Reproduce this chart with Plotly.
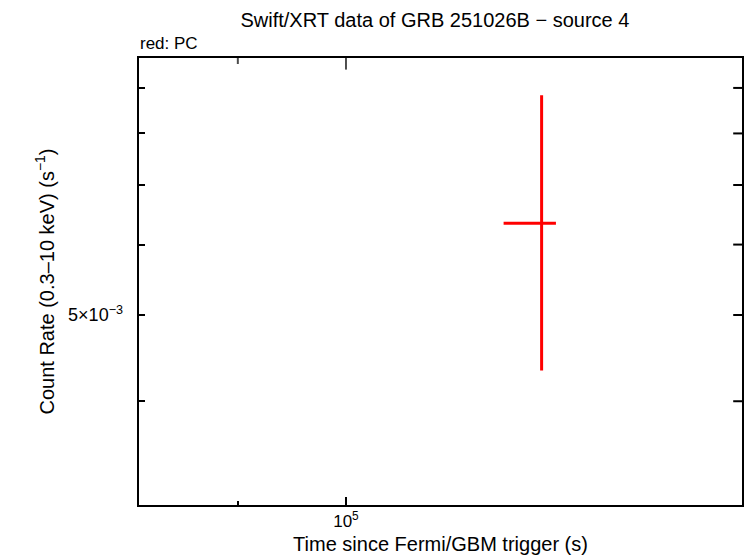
import plotly.graph_objects as go
import numpy as np

# Data (PC mode)
time = [1.21e5]
time_lo = [1.166e5]
time_hi = [1.227e5]
rate = [6.34e-3]
rate_lo = [4.33e-3]
rate_hi = [8.83e-3]

x_major = [1e5]
x_major_text = ["10<sup>5</sup>"]
x_minor = [8e4, 9e4, 2e5]
y_major = [5e-3]
y_major_text = ["5\u00d710<sup>\u22123</sup>"]
y_minor = [3e-3, 4e-3, 6e-3, 7e-3, 8e-3, 9e-3]

x_range = [4.912, 5.168]
y_range = [float(np.log10(3.05e-3)), float(np.log10(9.75e-3))]

fig = go.Figure()
fig.add_trace(go.Scatter(
    x=time, y=rate, mode="markers",
    marker=dict(size=0.1, color="red"),
    error_x=dict(type="data", symmetric=False,
                 array=[h - t for h, t in zip(time_hi, time)],
                 arrayminus=[t - l for t, l in zip(time, time_lo)],
                 color="red", thickness=3, width=0),
    error_y=dict(type="data", symmetric=False,
                 array=[h - r for h, r in zip(rate_hi, rate)],
                 arrayminus=[r - l for r, l in zip(rate, rate_lo)],
                 color="red", thickness=3, width=0),
    showlegend=False, hoverinfo="skip",
))

# mirrored ticks on the top and right edges: line markers at the axis edge, half clipped away
x_lo, x_hi = 10 ** x_range[0], 10 ** x_range[1]
y_lo, y_hi = 10 ** y_range[0], 10 ** y_range[1]
top_vals = [v for v in x_major + x_minor if x_lo < v < x_hi]
top_sizes = [18 if v in x_major else 10 for v in top_vals]
fig.add_trace(go.Scatter(
    x=top_vals, y=[y_hi] * len(top_vals), mode="markers", cliponaxis=True,
    marker=dict(symbol="line-ns-open", size=top_sizes, color="black",
                line=dict(color="black", width=2)),
    showlegend=False, hoverinfo="skip",
))
right_vals = [v for v in y_major + y_minor if y_lo < v < y_hi]
fig.add_trace(go.Scatter(
    x=[x_hi] * len(right_vals), y=right_vals, mode="markers", cliponaxis=True,
    marker=dict(symbol="line-ew-open", size=14, color="black",
                line=dict(color="black", width=2)),
    showlegend=False, hoverinfo="skip",
))

font = "Liberation Sans, Arial, Helvetica, sans-serif"

fig.update_layout(
    width=746, height=558,
    margin=dict(l=138, r=3, t=57, b=52),
    paper_bgcolor="white", plot_bgcolor="white",
    font=dict(family=font, color="black", size=16),
    title=dict(text="Swift/XRT data of GRB 251026B \u2212 source 4",
               x=0.583, xanchor="center", y=0.964, yanchor="middle",
               font=dict(size=20)),
    xaxis=dict(type="log", range=x_range, showline=False,
               ticks="inside", ticklen=9, tickwidth=2, tickcolor="black",
               tickvals=x_major, ticktext=x_major_text, ticklabelstandoff=3,
               minor=dict(tickvals=x_minor, ticks="inside", ticklen=5,
                          tickwidth=2, tickcolor="black"),
               showgrid=False, zeroline=False, tickfont=dict(size=17),
               title=dict(text="Time since Fermi/GBM trigger (s)",
                          font=dict(size=20), standoff=6)),
    yaxis=dict(type="log", range=y_range, showline=False,
               ticks="inside", ticklen=7, tickwidth=2, tickcolor="black",
               tickvals=y_major, ticktext=y_major_text, ticklabelstandoff=14,
               minor=dict(tickvals=y_minor, ticks="inside", ticklen=7,
                          tickwidth=2, tickcolor="black"),
               showgrid=False, zeroline=False, tickfont=dict(size=18),
               title=dict(text="Count Rate (0.3\u201310 keV) (s<sup>\u22121</sup>)",
                          font=dict(size=20), standoff=8)),
    shapes=[dict(type="rect", xref="paper", yref="paper", x0=0, x1=1, y0=0, y1=1,
                 line=dict(color="black", width=2), layer="above")],
    annotations=[dict(text="red: PC", x=0, xref="paper", xanchor="left",
                      y=1, yref="paper", yanchor="bottom", yshift=2,
                      showarrow=False, font=dict(size=17))],
)

fig.write_html("out.html", config={"displayModeBar": False},
               post_script="document.body.style.margin='0';document.body.style.overflow='hidden';")
